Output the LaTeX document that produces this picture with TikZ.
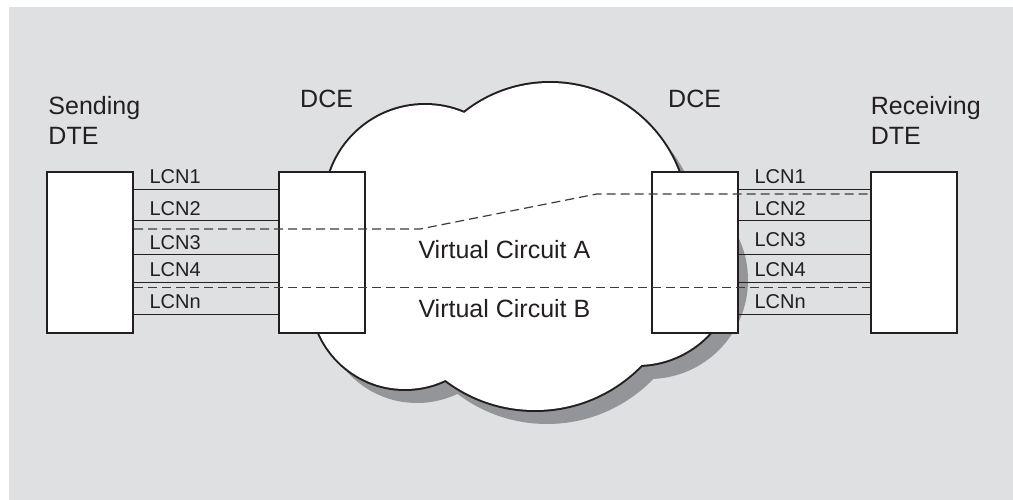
\documentclass[tikz,border=0pt]{standalone}
\usepackage{fontspec}
\setmainfont{Liberation Sans}
\definecolor{bgc}{RGB}{223,224,226}
\definecolor{ink}{RGB}{35,31,32}
\definecolor{shadowgray}{RGB}{147,149,152}
\definecolor{dashc}{RGB}{60,60,62}
\begin{document}
\begin{tikzpicture}[x=1pt,y=-1pt,
  box/.style={draw=ink, fill=white, line width=2pt, minimum width=86pt, minimum height=161pt, inner sep=0pt},
  lbl/.style={anchor=base west, inner sep=0pt, text=ink, font=\fontsize{20}{24}\selectfont},
  head/.style={anchor=base west, inner sep=0pt, text=ink, align=left, font=\fontsize{25}{30}\selectfont},
  wire/.style={draw=ink, line width=1pt},
  vc/.style={draw=dashc, line width=1.2pt, dash pattern=on 9pt off 5pt},
]
\useasboundingbox (0,0) rectangle (1013,500);
\fill[white] (0,0) rectangle (1013,500);
\fill[bgc] (9,7) rectangle (1013,500);
% cloud shadow
\begin{scope}[shift={(12,14)}]
  \fill[fill=shadowgray] (425,205) circle[radius=100pt] (550,220.6) circle[radius=137.6pt]
    (637,266) circle[radius=99pt] (535,262) circle[radius=148pt] (405,295) circle[radius=94pt];
\end{scope}
% cloud outline and body
\draw[ink, line width=4pt] (425,205) circle[radius=100pt] (550,220.6) circle[radius=137.6pt]
    (637,266) circle[radius=99pt] (535,262) circle[radius=148pt] (405,295) circle[radius=94pt];
\fill[white] (425,205) circle[radius=100pt] (550,220.6) circle[radius=137.6pt]
    (637,266) circle[radius=99pt] (535,262) circle[radius=148pt] (405,295) circle[radius=94pt];
% boxes
\node[box] (ldte) at (90,252.5) {};
\node[box] (ldce) at (322,252.5) {};
\node[box] (rdce) at (695,252.5) {};
\node[box] (rdte) at (914,252.5) {};
% wire levels
\coordinate (l1) at (0,189.3);
\coordinate (l2) at (0,220.7);
\coordinate (l3) at (0,254.3);
\coordinate (l4) at (0,282.3);
\coordinate (l5) at (0,314.3);
\coordinate (r3) at (0,254.7);
\foreach \c in {l1,l2,l3,l4,l5}{
  \draw[wire] (ldte.east |- \c) -- (ldce.west |- \c);
}
\foreach \c in {l1,l2,r3,l4,l5}{
  \draw[wire] (rdce.east |- \c) -- (rdte.west |- \c);
}
% virtual circuits
\coordinate (va) at (0,229);
\coordinate (vbend1) at (420,229);
\coordinate (vbend2) at (596.7,194);
\coordinate (vb) at (0,287.7);
\draw[vc] (ldte.east |- va) -- (vbend1) -- (vbend2) -- (rdte.west |- vbend2);
\draw[vc] (ldte.east |- vb) -- (rdte.west |- vb);
% labels
\node[lbl] (ll1) at (149.3,183.3) {LCN1};
\node[lbl] (ll2) at (149.3,215) {LCN2};
\node[lbl] (ll3) at (149.3,249) {LCN3};
\node[lbl] (ll4) at (149.3,276.7) {LCN4};
\node[lbl] (ll5) at (149.3,308.3) {LCNn};
\node[lbl] (rl1) at (754.3,183.3) {LCN1};
\node[lbl] (rl2) at (754.3,215) {LCN2};
\node[lbl] (rl3) at (754.3,246.7) {LCN3};
\node[lbl] (rl4) at (754.3,276.7) {LCN4};
\node[lbl] (rl5) at (754.3,308.3) {LCNn};
\node[head] (hsend) at (48.3,145) {Sending\\DTE};
\node[head] (hdcel) at (300,107.7) {DCE};
\node[head] (hdcer) at (668,107.7) {DCE};
\node[head] (hrecv) at (870.7,145) {Receiving\\DTE};
\node[head] (vca) at (418.3,258.3) {Virtual Circuit A};
\node[head] (vcb) at (418.3,317) {Virtual Circuit B};
\end{tikzpicture}
\end{document}
